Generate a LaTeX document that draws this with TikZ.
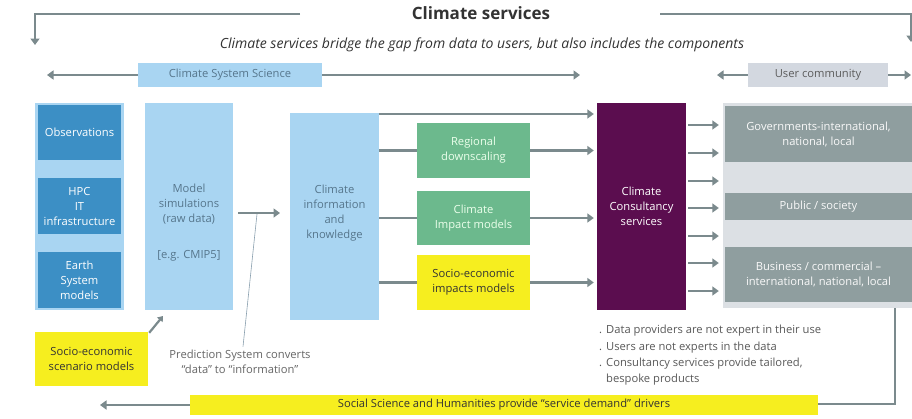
\documentclass[tikz,border=0pt]{standalone}
\usepackage{fontspec}
\setmainfont{Open Sans}
\usetikzlibrary{arrows.meta,calc}
\definecolor{lblue}{HTML}{A9D5F2}
\definecolor{dblue}{HTML}{3C8FC5}
\definecolor{mgreen}{HTML}{6CB98D}
\definecolor{myellow}{HTML}{F6EE1F}
\definecolor{mpurple}{HTML}{5B0D4F}
\definecolor{mgray}{HTML}{8F9E9F}
\definecolor{ubgc}{HTML}{DCE0E4}
\definecolor{ucc}{HTML}{D3D8E0}
\definecolor{arrc}{HTML}{7B8A8D}
\definecolor{lbtext}{HTML}{56768C}
\definecolor{dtext}{HTML}{333333}
\tikzset{
  boxs/.style={inner sep=1pt, align=center, font=\fontsize{11.2}{15}\selectfont},
  lbbox/.style={boxs, fill=lblue, text=lbtext},
  dbbox/.style={boxs, fill=dblue, text=white},
  grbox/.style={boxs, fill=mgreen, text=white!92!green},
  yebox/.style={boxs, fill=myellow, text=dtext},
  pubox/.style={boxs, fill=mpurple, text=white},
  gybox/.style={boxs, fill=mgray, text=white!95!gray},
  arr/.style={draw=arrc, line width=2.8pt, -{Triangle[length=6.5pt,width=9pt]}},
  ln/.style={draw=arrc, line width=2.8pt},
}
\begin{document}
\begin{tikzpicture}[x=1pt,y=-1pt]
\useasboundingbox[fill=white] (0,0) rectangle (912,418);
% title
\node[font=\fontsize{17}{20}\selectfont\bfseries, text=dtext] (title) at (481,13) {Climate services};
\node[font=\fontsize{14}{17}\selectfont\itshape, text=dtext] (sub) at (482,45) {Climate services bridge the gap from data to users, but also includes the components};
\coordinate (tl0) at (300,14);
\coordinate (tl1) at (35,14);
\coordinate (tl2) at (35,45);
\coordinate (tr0) at (660,14);
\coordinate (tr1) at (911,14);
\coordinate (tr2) at (911,42);
\draw[arr] (tl0) -- (tl1) -- (tl2);
\draw[arr] (tr0) -- (tr1) -- (tr2);
% top band
\node[boxs, fill=lblue, text=lbtext, minimum width=184pt, minimum height=24pt] (css) at (230,75) {Climate System Science};
\node[boxs, fill=ucc, text=dtext!80, minimum width=140pt, minimum height=24pt] (uc) at (818,75) {User community};
\coordinate (cssL) at (47,75);
\coordinate (cssR) at (580,75);
\coordinate (ucL) at (717,75);
\coordinate (ucR) at (911,75);
\draw[arr] (css.west) -- (cssL);
\draw[arr] (css.east) -- (cssR);
\draw[arr] (uc.west) -- (ucL);
\draw[arr] (uc.east) -- (ucR);
% left column
\node[fill=lblue, minimum width=89pt, minimum height=207pt, inner sep=0pt] (lcol) at (79.5,206.5) {};
\node[dbbox, minimum width=83pt, minimum height=55pt] (obs) at (79.5,132.5) {Observations};
\node[dbbox, minimum width=83pt, minimum height=56pt] (hpc) at (79.5,206) {HPC\\IT\\infrastructure};
\node[dbbox, minimum width=83pt, minimum height=56pt] (esm) at (79.5,280) {Earth\\System\\models};
\node[lbbox, minimum width=88pt, minimum height=207pt] (ms) at (189,206.5) {\mbox{}\\[25pt]Model\\simulations\\(raw data)\\[21pt][e.g. CMIP5]};
\node[yebox, minimum width=113pt, minimum height=54pt] (sesm) at (91.5,359) {Socio-economic\\scenario models};
\coordinate (sesmtip) at (163,316);
\draw[arrc, line width=2.2pt, -{Triangle[length=5pt,width=7pt]}] ([xshift=1pt,yshift=-1pt]sesm.north east) -- (sesmtip);
% climate info
\node[lbbox, minimum width=89pt, minimum height=207pt] (cik) at (334.5,216.5) {Climate\\information\\and\\knowledge\\[-5pt]\mbox{}};
\coordinate (msa) at (238,213);
\coordinate (msb) at (280,213);
\draw[arr] (msa) -- (msb);
\coordinate (callT) at (257,214);
\node[font=\fontsize{11.2}{15}\selectfont, text=black!60, align=center] (pred) at (240,362) {Prediction System converts\\``data'' to ``information''};
\draw[lbtext!70, line width=0.6pt] (pred.north) ++(3,0) -- (callT);
% middle boxes
\node[grbox, minimum width=113pt, minimum height=55pt] (rd) at (473.5,150.5) {Regional\\downscaling};
\node[grbox, minimum width=113pt, minimum height=54pt] (cim) at (473.5,218) {Climate\\Impact models};
\node[yebox, minimum width=113pt, minimum height=55pt] (seim) at (473.5,282.5) {Socio-economic\\impacts models};
% consultancy
\node[pubox, minimum width=89pt, minimum height=207pt] (ccs) at (641.5,206.5) {Climate\\Consultancy\\services};
\coordinate (top0) at (379,114);
\draw[arr] (top0) -- ([xshift=-3pt]ccs.west |- top0);
\foreach \b in {rd,cim,seim}{
  \draw[ln] (cik.east |- \b.west) -- (\b.west);
  \draw[arr] (\b.east) -- ([xshift=-3pt]ccs.west |- \b.east);
}
% users
\node[fill=ubgc, minimum width=189pt, minimum height=205pt, inner sep=0pt] (ubg) at (817.5,205.5) {};
\node[gybox, minimum width=187pt, minimum height=56pt] (gov) at (818.5,134) {Governments-international,\\national, local};
\node[gybox, minimum width=187pt, minimum height=27pt] (pub) at (818.5,206.5) {Public / society};
\node[gybox, minimum width=187pt, minimum height=55pt] (bus) at (818.5,274.5) {Business / commercial --\\international, national, local};
\foreach \yy in {125,153,181,208,236,263,291}{
  \draw[arr] ([xshift=2pt]ccs.east |- 0,\yy) -- ([xshift=-4pt]ubg.west |- 0,\yy);
}
% bullets
\node[anchor=north west, inner sep=0pt, font=\fontsize{11.2}{16.5}\selectfont, text=black!65] (bul) at (599,322)
 {\begin{tabular}{@{}l@{\hspace{4pt}}l@{}}
 . & Data providers are not expert in their use\\[0pt]
 . & Users are not experts in the data\\[0pt]
 . & Consultancy services provide tailored,\\[-1pt]
   & bespoke products
 \end{tabular}};
% bottom
\node[yebox, minimum width=628pt, minimum height=20pt] (ssh) at (504,405) {Social Science and Humanities provide ``service demand'' drivers};
\coordinate (sshL) at (100,405);
\draw[arr] (ssh.west) -- (sshL);
\coordinate (rc1) at (895,404);
\draw[ln, line width=2pt] (ubg.south -| rc1) -- (rc1) -- (ssh.east |- rc1);
\end{tikzpicture}
\end{document}
